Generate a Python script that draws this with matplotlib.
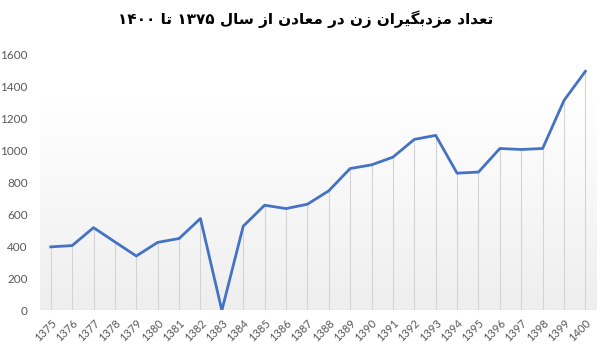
import numpy as np
import matplotlib
matplotlib.use('Agg')
import matplotlib.pyplot as plt

# data
years = [str(y) for y in range(1375, 1401)]
workers = [397, 405, 517, 428, 340, 425, 449, 574, 0, 526, 657, 636, 663, 747,
           886, 909, 957, 1068, 1093, 857, 864, 1011, 1005, 1011, 1311, 1493]
yticks = [0, 200, 400, 600, 800, 1000, 1200, 1400, 1600]
title = 'تعداد مزدبگیران زن در معادن از سال ۱۳۷۵ تا ۱۴۰۰'

# contextual forms: (isolated, final, initial, medial); 2-tuple = right-joining only
forms = {
    'ا': ('\uFE8D', '\uFE8E'),
    'د': ('\uFEA9', '\uFEAA'),
    'ر': ('\uFEAD', '\uFEAE'),
    'ز': ('\uFEAF', '\uFEB0'),
    'ب': ('\uFE8F', '\uFE90', '\uFE91', '\uFE92'),
    'ت': ('\uFE95', '\uFE96', '\uFE97', '\uFE98'),
    'س': ('\uFEB1', '\uFEB2', '\uFEB3', '\uFEB4'),
    'ع': ('\uFEC9', '\uFECA', '\uFECB', '\uFECC'),
    'ل': ('\uFEDD', '\uFEDE', '\uFEDF', '\uFEE0'),
    'م': ('\uFEE1', '\uFEE2', '\uFEE3', '\uFEE4'),
    'ن': ('\uFEE5', '\uFEE6', '\uFEE7', '\uFEE8'),
    'ی': ('\uFBFC', '\uFBFD', '\uFBFE', '\uFBFF'),
    'گ': ('\uFB92', '\uFB93', '\uFB94', '\uFB95'),
}


def shape(s):
    out = []
    for i, c in enumerate(s):
        if c not in forms:
            out.append(c)
            continue
        prev = s[i - 1] if i > 0 else ''
        nxt = s[i + 1] if i + 1 < len(s) else ''
        jp = prev in forms and len(forms[prev]) == 4
        jn = len(forms[c]) == 4 and nxt in forms
        f = forms[c]
        if jp and jn:
            out.append(f[3])
        elif jp:
            out.append(f[1])
        elif jn:
            out.append(f[2])
        else:
            out.append(f[0])
    return ''.join(out)


def visual(s):
    # split into digit / non-digit runs, lay out right to left
    runs = []
    for c in s:
        d = c in '۰۱۲۳۴۵۶۷۸۹'
        if runs and runs[-1][0] == d:
            runs[-1][1] += c
        else:
            runs.append([d, c])
    parts = [r[1] if r[0] else r[1][::-1] for r in runs]
    return ''.join(parts[::-1])


fig = plt.figure(figsize=(6.07, 3.54), dpi=100)
ax = fig.add_axes([0.066, 0.123, 0.916, 0.724])

x = np.arange(len(years))

# soft gradient behind the plot area
grad = np.linspace(0.935, 1.0, 256).reshape(-1, 1)
ax.imshow(np.dstack([grad, grad, grad]), extent=(-0.5, len(years) - 0.5, 0, 1330),
          origin='lower', aspect='auto', zorder=0)

ax.vlines(x, 0, workers, color='#d4d4d4', lw=0.8, zorder=1)
ax.axhline(0, color='#d0d0d0', lw=0.9, zorder=1)
ax.plot(x, workers, color='#4472C4', lw=2, zorder=3, solid_joinstyle='round')

ax.set_xlim(-0.5, len(years) - 0.5)
ax.set_ylim(0, 1600)
ax.set_yticks(yticks)
ax.set_yticklabels([str(v) for v in yticks], fontsize=8.5, color='#595959', family='Lato')
ax.set_xticks(x)
ax.set_xticklabels(years, rotation=45, ha='right', rotation_mode='anchor',
                   fontsize=8, color='#595959', family='Lato')
ax.tick_params(length=0, pad=5)
ax.tick_params(axis='y', pad=9)
for s in ax.spines.values():
    s.set_visible(False)

fig.text(0.503, 0.945, visual(shape(title)), ha='center', va='center',
         fontsize=11, fontweight='bold', family=['DejaVu Sans'])

fig.savefig('out.png', dpi=100)
